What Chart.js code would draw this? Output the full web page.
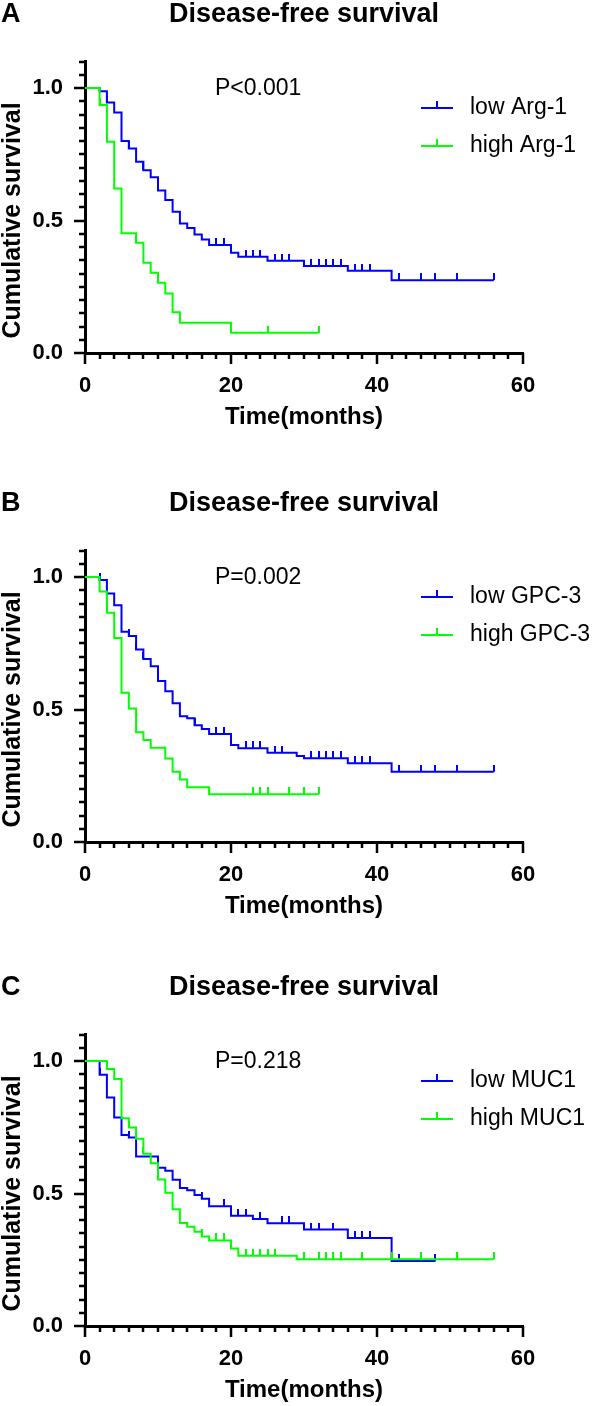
<!DOCTYPE html>
<html>
<head>
<meta charset="utf-8">
<script src="https://cdn.jsdelivr.net/npm/chart.js@4.4.1/dist/chart.umd.min.js"></script>
<style>
  html, body { margin: 0; padding: 0; background: #fff; }
  body { width: 595px; height: 1406px; position: relative; overflow: hidden; }
  .panel { position: absolute; left: 0; width: 595px; height: 433px; }
</style>
</head>
<body>
<div class="panel" style="top:0px"><canvas id="cA"></canvas></div>
<div class="panel" style="top:489px"><canvas id="cB"></canvas></div>
<div class="panel" style="top:973px"><canvas id="cC"></canvas></div>
<script>
'use strict';

// axis ticks
const xLabels = [0, 20, 40, 60];
const yLabels = [0, 0.5, 1.0];
const xMinorStep = 2;
const yMinorStep = 0.05;

// A: Arg-1
const lowArgT = [0, 2, 3, 4, 5, 6, 7, 8, 9, 10, 11, 12, 13, 14, 15, 16, 17, 20, 21, 25, 30, 36, 42, 56];
const lowArgS = [1, 0.988, 0.945, 0.908, 0.80, 0.772, 0.722, 0.69, 0.663, 0.613, 0.577, 0.533, 0.489, 0.472, 0.447, 0.428, 0.408, 0.378, 0.363, 0.348, 0.328, 0.31, 0.275, 0.275];
const lowArgCens = [3, 6, 8, 18, 19, 22, 23, 24, 26, 27, 28, 31, 32, 33, 34, 35, 37, 38, 39, 43, 46, 48, 51, 56];
const highArgT = [0, 2, 3, 4, 5, 7, 8, 9, 10, 11, 12, 13, 20, 32];
const highArgS = [1, 0.936, 0.797, 0.621, 0.452, 0.416, 0.341, 0.303, 0.265, 0.225, 0.154, 0.114, 0.076, 0.076];
const highArgCens = [2, 7, 25, 32];

// B: GPC-3
const lowGpcT = [0, 2, 3, 4, 5, 6, 7, 8, 9, 10, 11, 12, 13, 14, 15, 16, 17, 20, 21, 25, 29, 30, 36, 42, 56];
const lowGpcS = [1, 0.989, 0.938, 0.893, 0.793, 0.777, 0.726, 0.691, 0.663, 0.608, 0.569, 0.524, 0.475, 0.467, 0.441, 0.426, 0.408, 0.366, 0.354, 0.337, 0.325, 0.316, 0.297, 0.265, 0.265];
const lowGpcCens = [2, 6, 7, 8, 15, 18, 19, 22, 23, 24, 26, 27, 31, 32, 33, 34, 35, 37, 38, 39, 43, 46, 48, 51, 56];
const highGpcT = [0, 2, 3, 4, 5, 6, 7, 8, 9, 11, 12, 13, 14, 17, 32];
const highGpcS = [1, 0.945, 0.865, 0.77, 0.563, 0.504, 0.414, 0.385, 0.356, 0.315, 0.265, 0.236, 0.207, 0.18, 0.18];
const highGpcCens = [3, 23, 24, 25, 28, 30, 32];

// C: MUC1
const lowMucT = [0, 2, 3, 4, 5, 6, 7, 10, 11, 12, 13, 14, 15, 16, 17, 20, 23, 25, 30, 36, 42, 48];
const lowMucS = [1, 0.948, 0.862, 0.787, 0.721, 0.711, 0.640, 0.597, 0.586, 0.552, 0.521, 0.512, 0.494, 0.480, 0.452, 0.416, 0.404, 0.388, 0.364, 0.332, 0.245, 0.245];
const lowMucCens = [2, 6, 10, 16, 19, 21, 22, 24, 27, 28, 31, 32, 34, 37, 38, 39, 43, 48];
const highMucT = [0, 3, 4, 5, 6, 7, 8, 9, 10, 11, 12, 13, 14, 15, 16, 17, 20, 21, 29, 56];
const highMucS = [1, 0.97, 0.932, 0.784, 0.749, 0.707, 0.65, 0.614, 0.553, 0.503, 0.441, 0.389, 0.375, 0.356, 0.338, 0.323, 0.292, 0.265, 0.252, 0.252];
const highMucCens = [3, 6, 7, 8, 16, 18, 19, 22, 23, 24, 25, 26, 30, 32, 33, 34, 35, 38, 42, 46, 51, 56];

const FONT = "'Liberation Sans', Arial, sans-serif";
const BLUE = '#0000ff';
const GREEN = '#00ff00';

function tickImg(color) {
  const c = document.createElement('canvas');
  c.width = 2; c.height = 14;
  const g = c.getContext('2d');
  g.fillStyle = color;
  g.fillRect(0, 0, 2, 7);
  return c;
}

function survAt(T, S, t) {
  let v = S[0];
  for (let i = 0; i < T.length; i++) if (T[i] <= t) v = S[i];
  return v;
}

const deco = {
  id: 'deco',
  afterDraw(chart, args, o) {
    const ctx = chart.ctx, xs = chart.scales.x, ys = chart.scales.y, a = chart.chartArea;
    ctx.save();
    ctx.strokeStyle = '#000';
    ctx.lineWidth = 2.5;
    ctx.beginPath();
    for (let v = 0; v <= 60 + 1e-9; v += xMinorStep) {
      const px = Math.round(xs.getPixelForValue(v));
      const L = xLabels.includes(v) ? 11 : 6;
      ctx.moveTo(px, a.bottom); ctx.lineTo(px, a.bottom + L);
    }
    for (let k = 0; k <= 22; k++) {
      const v = k * yMinorStep;
      const py = Math.round(ys.getPixelForValue(v));
      const L = (k % 10 === 0) ? 11 : 6;
      ctx.moveTo(a.left, py); ctx.lineTo(a.left - L, py);
    }
    ctx.stroke();

    ctx.fillStyle = '#000';
    ctx.textBaseline = 'middle';
    ctx.font = 'bold 27px ' + FONT;
    ctx.textAlign = 'left';
    ctx.fillText(o.letter, 1, 15);
    ctx.textAlign = 'center';
    ctx.fillText('Disease-free survival', (a.left + a.right) / 2, 15);

    ctx.font = '23px ' + FONT;
    ctx.textAlign = 'left';
    ctx.fillText(o.p, 215, ys.getPixelForValue(1.0) + 1);

    ctx.font = 'bold 24px ' + FONT;
    ctx.textAlign = 'center';
    ctx.fillText('Time(months)', (a.left + a.right) / 2, a.bottom + 64);
    ctx.save();
    ctx.translate(20, (ys.getPixelForValue(0) + ys.getPixelForValue(1)) / 2);
    ctx.rotate(-Math.PI / 2);
    ctx.font = 'bold 25px ' + FONT;
    ctx.textBaseline = 'alphabetic';
    ctx.fillText('Cumulative survival', 0, 0);
    ctx.restore();

    ctx.font = '23px ' + FONT;
    ctx.textAlign = 'left';
    o.legend.forEach((it, i) => {
      const ly = 108 + i * 38;
      ctx.strokeStyle = it.color;
      ctx.lineWidth = 2;
      ctx.beginPath();
      ctx.moveTo(421, ly); ctx.lineTo(453, ly);
      ctx.moveTo(437, ly); ctx.lineTo(437, ly - 7);
      ctx.stroke();
      ctx.fillStyle = '#000';
      ctx.fillText(it.label, 470, ly);
    });
    ctx.restore();
  }
};

function makeChart(id, letter, p, lowLabel, highLabel, lowT, lowS, lowC, highT, highS, highC) {
  const pts = (T, S) => T.map((t, i) => ({ x: t, y: S[i] }));
  const cens = (T, S, C) => C.map(t => ({ x: t, y: survAt(T, S, t) }));
  return new Chart(document.getElementById(id), {
    type: 'line',
    data: {
      datasets: [
        { data: pts(highT, highS), borderColor: GREEN, borderWidth: 2, stepped: 'before', pointRadius: 0, order: 1 },
        { data: cens(highT, highS, highC), showLine: false, pointStyle: tickImg(GREEN), pointRadius: 4, order: 1 },
        { data: pts(lowT, lowS), borderColor: BLUE, borderWidth: 2, stepped: 'before', pointRadius: 0, order: 2 },
        { data: cens(lowT, lowS, lowC), showLine: false, pointStyle: tickImg(BLUE), pointRadius: 4, order: 2 },
      ],
    },
    options: {
      responsive: true,
      maintainAspectRatio: false,
      animation: false,
      events: [],
      layout: { padding: { top: 61.5, left: 0, right: 72, bottom: 0 } },
      plugins: {
        legend: { display: false },
        tooltip: { enabled: false },
        deco: { letter, p, legend: [{ label: lowLabel, color: BLUE }, { label: highLabel, color: GREEN }] },
      },
      scales: {
        x: {
          type: 'linear', min: 0, max: 60,
          afterBuildTicks: (s) => { s.ticks = xLabels.map(v => ({ value: v })); },
          afterFit: (s) => { s.height = 80; },
          grid: { display: false },
          border: { display: true, color: '#000', width: 3 },
          ticks: { autoSkip: false, maxRotation: 0, padding: 12, color: '#000', font: { family: FONT, size: 22, weight: 'bold' } },
        },
        y: {
          type: 'linear', min: 0, max: 1.1,
          afterBuildTicks: (s) => { s.ticks = yLabels.map(v => ({ value: v })); },
          afterFit: (s) => { s.width = 85; },
          grid: { display: false },
          border: { display: true, color: '#000', width: 3 },
          ticks: { padding: 14, color: '#000', font: { family: FONT, size: 22, weight: 'bold' }, callback: (v) => Number(v).toFixed(1) },
        },
      },
    },
    plugins: [deco],
  });
}

makeChart('cA', 'A', 'P<0.001', 'low Arg-1', 'high Arg-1', lowArgT, lowArgS, lowArgCens, highArgT, highArgS, highArgCens);
makeChart('cB', 'B', 'P=0.002', 'low GPC-3', 'high GPC-3', lowGpcT, lowGpcS, lowGpcCens, highGpcT, highGpcS, highGpcCens);
makeChart('cC', 'C', 'P=0.218', 'low MUC1', 'high MUC1', lowMucT, lowMucS, lowMucCens, highMucT, highMucS, highMucCens);
</script>
</body>
</html>
